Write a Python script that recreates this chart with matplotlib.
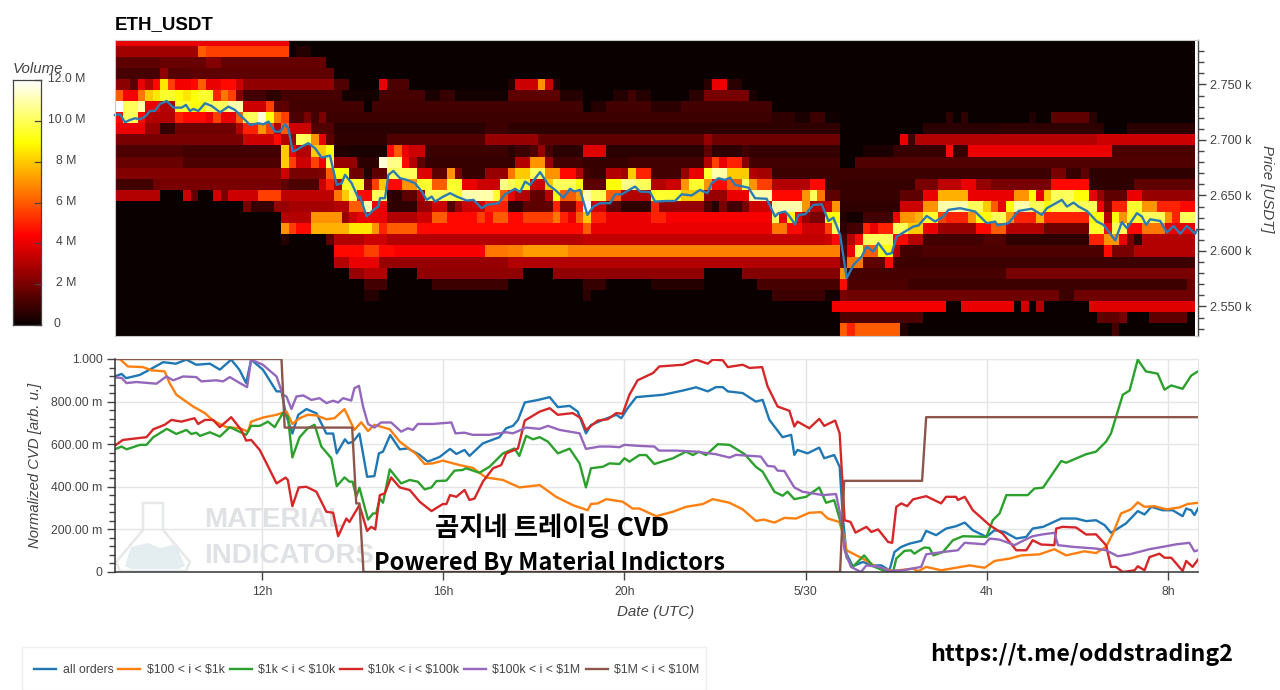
import numpy as np
import matplotlib
matplotlib.use("Agg")
import matplotlib.pyplot as plt
from matplotlib.transforms import Affine2D
from matplotlib.patches import Polygon, Rectangle
from matplotlib.ticker import FixedLocator

plt.rcParams['font.family'] = ['Liberation Sans', 'Noto Sans CJK KR', 'DejaVu Sans']
plt.rcParams['text.parse_math'] = False

TITLE = "ETH_USDT"
TIME_TICKS = [12, 16, 20, 24, 28, 32]
TIME_LABELS = ["12h", "16h", "20h", "5/30", "4h", "8h"]
PRICE_TICKS = [2550, 2600, 2650, 2700, 2750]
PRICE_LABELS = ["2.550 k", "2.600 k", "2.650 k", "2.700 k", "2.750 k"]
CVD_TICKS = [0, .2, .4, .6, .8, 1.0]
CVD_LABELS = ["0", "200.00 m", "400.00 m", "600.00 m", "800.00 m", "1.000"]

# Heatmap: one row per 10 USD price bin, (last 10-min column, volume in millions)
r2790 = [(23,4),(143,0)]
r2780 = [(11,2.7),(12,6),(23,5.5),(24,0),(26,.5),(143,0)]
r2770 = [(6,1.5),(12,1.7),(14,2.2),(28,1.6),(143,0)]
r2760 = [(6,1.1),(7,2.4),(10,1.4),(29,1.5),(143,0)]
r2750 = [(2,2.3),(3,1.4),(4,4),(5,3),(6,4.5),(7,8.5),(8,5.5),(10,4.2),(11,4.5),(12,6),(14,4),(16,4.5),(17,3.5),(29,2.4),(31,1.3),(35,0),(36,4),(39,1.2),(52,0),(53,.5),(56,3.5),(57,7),(58,3.5),(59,.5),(78,0),(79,.6),(81,4),(83,.6),(143,0)]
r2740 = [(1,6),(3,4.3),(4,6.5),(5,8),(6,8.5),(8,9.5),(9,9),(10,8.5),(11,9),(13,9.5),(14,5),(15,6.5),(16,5.5),(17,2.2),(20,1),(22,.7),(30,1.1),(35,.2),(41,1.1),(43,.3),(45,.8),(52,.2),(59,1.5),(62,.5),(66,0),(68,.5),(69,1),(71,.5),(76,0),(78,.6),(84,2),(85,.3),(143,0)]
r2730 = [(1,12),(3,10),(4,11),(6,4),(8,3),(10,9.5),(12,9),(15,10),(17,11),(20,3.5),(21,5.5),(23,1.5),(33,1),(34,0),(62,1),(63,0),(65,.5),(71,1),(75,.6),(87,1),(143,0)]
r2720 = [(1,4.5),(3,10),(4,4.5),(8,3),(9,5),(12,4.5),(13,4),(14,5.5),(16,4),(17,6),(19,10),(20,11.5),(21,9),(22,6.5),(23,5.5),(25,1.2),(26,2),(27,1),(28,2),(87,.9),(90,.7),(92,.3),(94,.9),(96,.1),(110,0),(111,.7),(112,0),(113,.7),(121,0),(122,.4),(124,0),(129,1.5),(130,.6),(143,0)]
r2710 = [(4,4),(6,2.5),(8,.8),(16,1.8),(17,3),(19,5),(20,7),(21,5.5),(22,3),(23,6),(26,3.5),(29,1.3),(49,.6),(52,.9),(96,.7),(107,0),(117,.6),(131,.7),(134,0),(143,.6)]
r2700 = [(17,2),(21,3.5),(22,4.5),(23,3),(24,2.5),(26,10),(27,7),(28,4),(29,1.5),(36,.7),(49,1.3),(56,2.5),(78,1.5),(79,2.5),(96,1.8),(104,0),(105,4),(106,1),(130,3),(143,3.5)]
r2690 = [(9,1.2),(22,1),(23,8),(24,4),(26,3),(28,8),(29,9),(31,.4),(36,.3),(37,4.5),(38,6),(39,4),(41,3.5),(52,.9),(53,.6),(55,.9),(56,1.3),(57,2.5),(58,1),(62,.6),(65,3.8),(78,.6),(79,1.5),(83,.7),(84,1),(96,.8),(99,0),(103,.3),(110,.8),(111,4.5),(113,.8),(132,4),(143,1.2)]
r2680 = [(9,1.7),(22,1.2),(23,8),(24,5.5),(26,3.5),(27,5.5),(28,4),(29,10),(32,2.5),(35,.6),(36,11.5),(38,10.5),(39,4.5),(40,3),(41,1.5),(53,.8),(55,3),(57,7),(58,2.5),(62,1),(68,.8),(78,1),(79,3),(80,5.5),(81,4),(83,5),(84,2.3),(96,1),(98,0),(143,1.3)]
r2670 = [(22,2.2),(23,3.5),(27,2),(28,2.2),(29,6),(31,9),(33,1.8),(34,.5),(36,1.5),(40,10),(42,3.8),(44,1.5),(45,7),(46,2),(49,.8),(52,2.5),(53,6.5),(55,8),(57,10),(59,7),(61,4.5),(62,3),(63,1),(65,.8),(67,3),(68,2.7),(69,8),(71,5),(75,1),(76,2.5),(78,4),(79,9.5),(81,11),(84,8),(85,3),(87,2.8),(124,.9),(126,2),(128,.8),(129,1.5),(143,.7)]
r2660 = [(5,1),(6,1.8),(22,2),(23,1.5),(27,1.2),(28,3.5),(29,5),(30,3),(33,9.5),(34,2),(35,5.5),(36,8),(38,4.5),(40,7),(42,9.5),(44,6),(46,9.5),(48,4),(51,3.5),(52,10.5),(53,10),(55,9.5),(57,3.5),(58,8),(61,10),(62,9),(65,1.5),(67,9),(69,10.5),(71,10),(73,3),(75,3.5),(76,7),(78,9.5),(79,7),(81,4.5),(83,6),(84,10),(85,7),(87,5.5),(92,3),(94,4.5),(96,.9),(106,.8),(109,2),(112,3.2),(114,4),(116,2.5),(124,2),(129,4.5),(135,.7),(143,1.5)]
r2650 = [(6,3),(9,0),(10,3.5),(11,1.5),(13,0),(14,3.5),(15,2),(19,3.5),(22,5.5),(29,3.2),(30,6.5),(31,8),(32,10),(34,4.5),(36,10),(38,.6),(40,1.5),(41,3),(45,10),(46,9.5),(50,11),(51,9.5),(52,6),(53,4),(55,3),(57,1.5),(58,3),(59,9),(61,6),(62,7),(63,11),(65,10),(67,6),(71,3),(75,9.5),(78,8),(81,2.5),(84,4),(87,11),(91,4.5),(92,7),(93,10),(94,6.5),(96,1.5),(104,.8),(107,1.5),(109,4),(113,7.5),(119,4),(121,7),(122,9),(123,4),(124,8),(127,10),(129,9),(130,4),(131,2.5),(134,1.5),(136,4),(143,2.5)]
r2640 = [(17,0),(18,2),(21,.8),(23,2.5),(29,2.8),(31,3),(33,6),(34,11),(36,4),(40,.7),(42,2.5),(44,3.5),(45,1.3),(46,2.5),(49,3.5),(52,5),(54,.6),(58,1.5),(59,5),(61,2),(62,5),(63,12),(65,3.5),(67,1.5),(71,.7),(72,5),(78,2.5),(79,1.2),(80,.5),(81,2),(83,1),(84,2),(87,3.5),(91,11),(92,7),(94,3),(95,3.5),(96,7),(104,.7),(107,3.5),(109,7),(113,11),(115,10),(116,8),(117,6),(118,4),(119,9),(121,11),(123,10),(124,9),(130,10),(131,4),(132,2),(134,5),(136,9.5),(138,7),(141,5),(143,4.5)]
r2630 = [(22,0),(26,3),(30,7),(31,2.5),(32,3.5),(36,4),(40,3),(42,3.5),(44,6),(48,4.5),(49,5.5),(50,4.5),(52,6),(54,4.5),(58,5.5),(59,6.5),(60,5),(61,4),(62,6),(63,8),(65,5),(71,4),(73,5),(87,4.3),(88,10),(89,4),(90,9),(91,4),(92,2.5),(94,2),(96,9),(97,.5),(99,.2),(103,1),(104,4),(106,7),(107,7.5),(109,9.5),(110,5.5),(113,5),(114,7),(116,9),(118,10),(119,7),(122,5),(123,7.5),(129,5),(131,9),(132,3),(133,9),(134,7),(136,9.5),(139,10),(140,7),(141,5),(143,10)]
r2620 = [(22,0),(23,7),(24,5.5),(26,4.5),(31,7.5),(34,8.5),(35,7),(36,5),(40,6),(62,4.5),(63,6),(87,4),(89,6.5),(91,4.5),(94,3.5),(95,5.5),(96,10),(97,.7),(99,1),(100,5),(101,4),(103,5),(105,10),(107,8),(109,4),(114,2.5),(116,4.5),(118,6),(123,3),(129,1.8),(131,9.5),(132,4.5),(134,10),(136,4.5),(139,6.5),(143,4)]
r2610 = [(22,0),(23,.5),(28,0),(29,1.5),(33,3),(36,3.5),(62,3),(94,3.3),(95,3.5),(96,4.5),(97,1),(98,3),(99,4.5),(103,10),(105,4.5),(107,3),(115,1),(118,1.3),(129,.7),(131,5),(133,7),(134,4),(135,2),(136,.7),(143,3)]
r2600 = [(29,0),(33,4.5),(35,5.5),(37,4.5),(49,4.3),(52,6.5),(54,6.7),(60,7.2),(96,6.7),(97,1.3),(98,4),(99,10),(101,6),(103,9),(104,3),(107,1),(131,1.2),(132,4.5),(135,2),(143,3)]
r2590 = [(29,0),(31,3),(35,4),(52,2.5),(96,3),(97,1.5),(99,6.5),(102,1.5),(103,4.5),(143,.9)]
r2580 = [(31,0),(33,2.5),(36,3),(40,0),(54,2.4),(58,0),(78,2.4),(83,0),(96,2.2),(97,7),(118,1.1),(143,2)]
r2570 = [(33,0),(36,1),(42,0),(52,.9),(62,0),(65,.8),(71,0),(78,.5),(85,0),(96,1.1),(97,4.5),(105,1.2),(142,.9),(143,1.7)]
r2560 = [(33,0),(35,.5),(62,0),(63,.6),(87,0),(94,.9),(96,.2),(97,2),(125,1.8),(127,.9),(143,1.8)]
r2550 = [(95,0),(110,4.2),(112,0),(119,4),(120,0),(121,3.5),(122,0),(123,3),(129,0),(143,3.8)]
r2540 = [(96,0),(107,1.2),(130,0),(133,1.5),(134,2),(137,0),(142,1.5),(143,0)]
r2530 = [(96,0),(97,6),(98,5),(104,6),(105,.5),(132,0),(133,1),(143,0)]
heat_rows = [r2790,r2780,r2770,r2760,r2750,r2740,r2730,r2720,r2710,r2700,r2690,r2680,r2670,r2660,
             r2650,r2640,r2630,r2620,r2610,r2600,r2590,r2580,r2570,r2560,r2550,r2540,r2530]
heat_prices_top = 2795
heat_prices_bottom = 2525
heat_start_hour = 8.755
heat_bin_hours = 1/6

# Price line: (hour from 5/29 00:00, price)
price_line = [(8.755,2722.5),(8.865,2723.1),(8.976,2715.9),(9.086,2718),(9.197,2719.5),(9.307,2718.6),(9.417,2721),(9.528,2726.1),(9.638,2726.1),(9.748,2732.4),(9.895,2735.1),(10.043,2729.1),(10.227,2729.1),(10.322,2731.5),(10.411,2726.1),(10.484,2727.9),(10.595,2726.1),(10.742,2733),(10.889,2730.6),(11.073,2724.9),(11.257,2730),(11.404,2727),(11.551,2721),(11.735,2713.5),(11.919,2715),(12.03,2714.1),(12.14,2716.5),(12.287,2707.5),(12.397,2707.5),(12.508,2714.1),(12.581,2710.5),(12.677,2689.5),(12.765,2691),(12.876,2694),(13.023,2697),(13.17,2692.5),(13.317,2684.1),(13.501,2685.9),(13.648,2659.5),(13.759,2661),(13.832,2668.5),(13.979,2661),(14.127,2647.5),(14.163,2649),(14.311,2631),(14.458,2637),(14.568,2640),(14.605,2647.5),(14.715,2647.5),(14.789,2668.5),(14.899,2672.1),(15.046,2665.5),(15.194,2664),(15.377,2661),(15.525,2653.5),(15.635,2646),(15.745,2649),(15.819,2644.5),(16.003,2649),(16.15,2652),(16.297,2649),(16.518,2645.4),(16.665,2646),(16.849,2638.5),(16.96,2641.5),(17.217,2643),
(17.365,2651),(17.586,2656),(17.696,2653),(17.807,2662.5),(17.917,2659.5),(18.137,2671),(18.321,2659.5),(18.469,2655),(18.652,2648),(18.8,2656),(18.888,2653.5),(19.02,2655),(19.182,2632.5),(19.314,2640),(19.461,2643),(19.682,2643),(19.793,2651),(19.94,2651),(20.234,2658),(20.344,2653.5),(20.565,2653),(20.675,2644.5),(20.933,2645),(21.117,2645),(21.264,2651),(21.484,2650),(21.668,2655),(21.83,2652),(21.926,2661),(22.073,2665.5),(22.22,2664),(22.331,2666),(22.441,2659.5),(22.735,2657),(22.883,2647.5),(23.14,2647),(23.324,2631),(23.398,2634),(23.545,2635.5),(23.619,2632.5),(23.766,2624),(23.84,2632.5),(23.987,2633),(24.171,2641.5),(24.355,2642),(24.502,2627),(24.612,2630),(24.76,2614.5),(24.907,2575.5),(25.054,2587.5),(25.238,2595),(25.348,2604),(25.495,2599.5),(25.605,2607),
(25.789,2597),(25.9,2598),(26.01,2613),(26.194,2617.5),(26.378,2622),(26.49,2623),(26.672,2631.5),(26.856,2626.5),(27.04,2631),(27.151,2637),(27.409,2638.5),(27.74,2635.5),(27.998,2625),(28.182,2626.5),(28.234,2623),(28.477,2625),(28.698,2636),(28.993,2638),(29.213,2632.5),(29.324,2638.5),(29.655,2646),(29.766,2640),(29.913,2643.5),(30.023,2640),(30.207,2636),(30.428,2626.5),(30.575,2623.5),(30.833,2609.5),(30.98,2626),(31.09,2620.5),(31.311,2634),(31.421,2631),(31.516,2623.5),(31.605,2628.5),(31.826,2627),(31.973,2616.5),(32.12,2622.5),(32.267,2615.5),(32.414,2622.5),(32.598,2615.5),(32.635,2619)]

# Normalized CVD: (hour, value)
cvd_all = [(8.75,.918),(8.9,.93),(9.0,.91),(9.3,.925),(9.52,.95),(9.82,.985),(10.1,.978),(10.33,.997),(10.55,.973),(10.85,.978),(11.07,.95),(11.32,.997),(11.5,.95),(11.65,.887),(11.76,.997),(12.02,.95),(12.32,.848),(12.43,.848),(12.52,.745),(12.67,.65),(12.8,.738),(12.98,.765),(13.2,.745),(13.42,.65),(13.57,.65),(13.65,.557),(13.83,.623),(13.9,.605),(14.0,.61),(14.15,.65),(14.32,.447),(14.48,.45),(14.58,.557),(14.67,.565),(14.83,.643),(15.04,.576),(15.22,.58),(15.48,.55),(15.66,.518),(15.92,.54),(16.15,.578),(16.29,.554),(16.47,.573),(16.58,.545),(16.875,.604),(17.24,.633),(17.39,.675),(17.54,.686),(17.65,.714),(17.8,.796),(18.1,.808),(18.35,.821),(18.53,.774),(18.79,.78),(18.97,.753),(19.15,.651),(19.26,.69),(19.52,.714),(19.82,.738),(19.93,.722),(20.07,.769),(20.26,.821),(20.85,.832),(21.29,.852),(21.58,.867),(21.84,.848),(22.02,.868),(22.17,.868),(22.28,.848),(22.61,.84),(22.9,.80),(23.05,.808),(23.2,.714),(23.49,.633),(23.68,.644),(23.75,.55),(23.82,.573),(24.04,.557),(24.3,.584),(24.41,.534),(24.63,.549),(24.75,.494),(24.82,.259),(24.9,.086),(25.04,.027),(25.26,.047),(25.49,.031),(25.67,.031),(25.85,.008),(25.96,.094),(26.11,.118),(26.29,.133),(26.55,.146),(26.66,.193),(26.88,.173),(27.1,.204),(27.32,.215),(27.51,.232),(27.69,.196),(27.99,.165),(28.17,.196),(28.39,.188),(28.65,.157),(28.87,.165),(29.01,.204),(29.24,.212),(29.64,.251),(29.97,.251),(30.19,.239),(30.41,.243),(30.6,.22),(30.74,.184),(31.07,.228),(31.33,.286),(31.48,.27),(31.63,.306),(31.88,.29),(32.1,.29),(32.32,.262),(32.4,.298),(32.51,.29),(32.58,.267),(32.66,.298)]
cvd_100_1k = [(8.75,1.0),(8.86,1.0),(9.04,.965),(9.37,.962),(9.56,.947),(9.85,.942),(9.96,.887),(10.11,.832),(10.48,.777),(10.74,.746),(10.92,.711),(11.21,.68),(11.51,.675),(11.69,.659),(11.76,.706),(12.02,.725),(12.32,.738),(12.54,.754),(12.67,.695),(12.83,.722),(13.01,.738),(13.2,.735),(13.42,.717),(13.6,.722),(13.82,.765),(14.04,.667),(14.19,.703),(14.34,.662),(14.48,.691),(14.82,.67),(15.04,.612),(15.4,.554),(15.59,.507),(15.77,.51),(15.99,.523),(16.36,.502),(16.65,.489),(16.94,.444),(17.32,.432),(17.68,.397),(18.13,.408),(18.49,.353),(18.86,.314),(19.19,.29),(19.26,.319),(19.41,.322),(19.6,.342),(19.96,.33),(20.18,.298),(20.33,.298),(20.7,.262),(21.07,.283),(21.36,.306),(21.73,.319),(21.95,.342),(22.32,.325),(22.61,.294),(22.9,.24),(23.08,.246),(23.31,.232),(23.53,.254),(23.79,.251),(24.08,.278),(24.34,.281),(24.49,.251),(24.74,.235),(24.85,.165),(24.9,.102),(25.26,.063),(25.56,.024),(25.93,.005),(26.37,.016),(26.48,.003),(26.66,.024),(26.99,.008),(27.32,.02),(27.62,.031),(27.95,.02),(28.17,.052),(28.5,.063),(28.76,.078),(29.16,.083),(29.49,.107),(29.75,.078),(30.15,.097),(30.41,.089),(30.63,.118),(30.78,.18),(30.96,.275),(31.18,.294),(31.33,.327),(31.48,.306),(31.7,.309),(31.96,.294),(32.25,.303),(32.43,.319),(32.66,.325)]
cvd_1k_10k = [(8.75,.576),(8.9,.589),(9.01,.576),(9.31,.597),(9.45,.597),(9.6,.633),(9.9,.672),(10.11,.648),(10.33,.667),(10.44,.648),(10.55,.654),(10.63,.639),(10.85,.656),(11.07,.636),(11.29,.68),(11.65,.644),(11.76,.686),(11.95,.686),(12.13,.706),(12.28,.68),(12.46,.746),(12.57,.73),(12.67,.538),(12.83,.633),(13.01,.675),(13.16,.691),(13.31,.589),(13.53,.534),(13.65,.403),(13.82,.444),(13.93,.424),(14.0,.424),(14.08,.353),(14.15,.396),(14.34,.246),(14.45,.275),(14.52,.275),(14.6,.345),(14.67,.325),(14.82,.482),(15.07,.416),(15.26,.432),(15.44,.424),(15.59,.388),(15.74,.397),(15.85,.427),(16.07,.429),(16.25,.476),(16.43,.479),(16.5,.487),(16.8,.466),(17.02,.494),(17.32,.557),(17.57,.58),(17.68,.545),(17.83,.639),(17.98,.623),(18.13,.633),(18.31,.612),(18.53,.557),(18.79,.579),(19.01,.51),(19.15,.397),(19.26,.487),(19.52,.494),(19.67,.51),(19.89,.507),(20,.534),(20.11,.518),(20.33,.549),(20.48,.549),(20.66,.507),(21.07,.534),(21.36,.565),(21.51,.549),(21.65,.565),(21.8,.549),(22.06,.6),(22.32,.597),(22.65,.554),(22.9,.494),(23.05,.471),(23.31,.377),(23.49,.358),(23.6,.377),(23.75,.342),(24.01,.353),(24.3,.397),(24.45,.325),(24.63,.337),(24.78,.228),(24.9,.07),(25.04,.024),(25.29,.078),(25.49,.027),(25.71,.008),(25.93,0),(26,.063),(26.18,.099),(26.32,.102),(26.4,.086),(26.51,.102),(26.62,.115),(26.73,.113),(26.82,.078),(27.03,.094),(27.25,.149),(27.47,.168),(27.99,.165),(28.13,.243),(28.28,.275),(28.43,.361),(28.9,.361),(29.05,.392),(29.24,.396),(29.64,.521),(29.75,.513),(30.19,.553),(30.41,.565),(30.63,.612),(30.74,.651),(31,.832),(31.15,.852),(31.33,.997),(31.51,.942),(31.77,.931),(31.92,.856),(32.07,.876),(32.32,.86),(32.51,.922),(32.66,.942)]
cvd_10k_100k = [(8.75,.593),(8.93,.62),(9.45,.633),(9.6,.67),(9.85,.691),(10,.714),(10.22,.706),(10.51,.722),(10.59,.695),(10.74,.714),(10.92,.714),(11.07,.68),(11.32,.727),(11.54,.667),(11.65,.617),(11.76,.62),(11.95,.573),(12.1,.51),(12.32,.416),(12.52,.443),(12.57,.432),(12.67,.309),(12.81,.397),(12.98,.4),(13.2,.377),(13.42,.283),(13.57,.278),(13.68,.168),(13.86,.251),(13.93,.235),(14.15,.314),(14.32,.193),(14.41,.212),(14.5,.2),(14.6,.361),(14.71,.369),(14.85,.444),(15.04,.397),(15.26,.385),(15.48,.33),(15.74,.286),(15.99,.319),(16.07,.319),(16.15,.361),(16.29,.353),(16.47,.385),(16.58,.338),(16.69,.345),(16.875,.424),(17.1,.487),(17.28,.502),(17.39,.557),(17.65,.58),(17.8,.711),(18.13,.753),(18.35,.769),(18.53,.738),(18.86,.746),(19.04,.722),(19.15,.667),(19.41,.711),(19.63,.717),(19.82,.746),(19.96,.743),(20.11,.832),(20.29,.9),(20.63,.934),(20.77,.965),(21.29,.973),(21.58,.997),(21.84,.978),(21.95,.997),(22.17,.994),(22.28,.962),(22.61,.973),(22.76,.958),(23.04,.962),(23.16,.871),(23.38,.777),(23.64,.757),(23.75,.683),(23.82,.706),(24.08,.675),(24.3,.719),(24.41,.686),(24.65,.711),(24.75,.651),(24.86,.243),(24.99,.235),(25.1,.185),(25.34,.212),(25.45,.188),(25.6,.2),(25.82,.141),(25.91,.137),(26,.306),(26.11,.322),(26.24,.309),(26.37,.341),(26.66,.356),(26.99,.322),(27.1,.353),(27.32,.353),(27.36,.338),(27.51,.353),(27.69,.29),(28.06,.22),(28.35,.18),(28.65,.102),(28.87,.102),(29.01,.149),(29.2,.129),(29.49,.126),(29.53,.204),(29.67,.212),(29.97,.209),(30.19,.176),(30.41,.177),(30.63,.126),(30.74,.024),(30.85,.024),(31,0),(31.26,.008),(31.33,.027),(31.48,.008),(31.59,.07),(31.81,.086),(31.92,.067),(32.07,.067),(32.32,.005),(32.4,.052),(32.54,.024),(32.66,.058)]
cvd_100k_1m = [(8.75,.914),(8.9,.911),(9.01,.887),(9.23,.892),(9.67,.884),(9.89,.918),(10.04,.9),(10.26,.918),(10.55,.915),(10.66,.895),(10.99,.9),(11.14,.895),(11.29,.915),(11.51,.887),(11.67,.868),(11.76,.997),(12.02,.973),(12.32,.918),(12.46,.832),(12.54,.824),(12.65,.765),(12.76,.824),(12.91,.829),(13.09,.808),(13.27,.816),(13.42,.793),(13.57,.804),(13.68,.796),(13.79,.816),(13.97,.805),(14.04,.863),(14.14,.874),(14.23,.777),(14.34,.695),(14.48,.678),(14.63,.702),(14.85,.702),(15.07,.659),(15.22,.675),(15.33,.667),(15.44,.695),(15.77,.695),(16.18,.702),(16.27,.651),(16.47,.654),(16.65,.644),(17.02,.644),(17.39,.656),(17.54,.651),(17.83,.678),(18.13,.672),(18.31,.686),(18.57,.667),(19.01,.651),(19.15,.578),(19.45,.589),(19.67,.589),(19.89,.586),(20,.597),(20.33,.592),(20.66,.589),(20.76,.57),(21.14,.57),(21.58,.565),(22.02,.553),(22.32,.537),(22.46,.55),(23.01,.542),(23.16,.498),(23.31,.495),(23.38,.476),(23.53,.474),(23.75,.397),(23.93,.377),(24.38,.361),(24.67,.366),(24.79,.243),(24.86,.102),(25,.024),(25.22,0),(25.34,.031),(25.63,.024),(25.85,.005),(26.15,.008),(26.55,.024),(26.66,.083),(27.03,.094),(27.36,.102),(27.51,.137),(27.95,.13),(28.06,.157),(28.28,.152),(28.61,.126),(28.79,.146),(29.01,.168),(29.24,.177),(29.49,.184),(29.57,.126),(29.9,.118),(30.41,.11),(30.63,.102),(30.89,.074),(31.15,.083),(31.59,.107),(31.88,.118),(32.18,.13),(32.47,.137),(32.58,.097),(32.66,.102)]
cvd_1m_10m = [(8.75,1.0),(12.43,1.0),(12.5,.678),(13.99,.678),(14.08,.322),(14.15,.322),(14.24,0),(24.76,0),(24.85,.428),(26.57,.428),(26.66,.727),(32.66,.727)]

series_labels = ["all orders", "$100 < i < $1k", "$1k < i < $10k", "$10k < i < $100k", "$100k < i < $1M", "$1M < i < $10M"]
series_data = [cvd_all, cvd_100_1k, cvd_1k_10k, cvd_10k_100k, cvd_100k_1m, cvd_1m_10m]
series_colors = ["#1f77b4", "#ff7f0e", "#2ca02c", "#d62728", "#9467bd", "#8c564b"]

W, H = 1280, 690
GRAY = "#444444"


def ax_px(left, top, right, bottom):
    return fig.add_axes([left / W, 1 - bottom / H, (right - left) / W, (bottom - top) / H])


def txt(x, y, s, **kw):
    return fig.text(x / W, 1 - y / H, s, **kw)


def expand(row):
    out, start = [], 0
    for end, val in row:
        out += [val] * (end - start)
        start = end
    return out


fig = plt.figure(figsize=(W / 100, H / 100), dpi=100, facecolor="white")
px = Affine2D().scale(1, -1).translate(0, H)
XLIM = (8.755, 32.66)
PRICE_YLIM = (2523.4, 2790)

# ---- heatmap panel
ax1 = ax_px(115, 40, 1198, 336)
heat = np.array([expand(r) for r in heat_rows], dtype=float)
t_edges = heat_start_hour + np.arange(heat.shape[1] + 1) * heat_bin_hours
p_edges = np.linspace(heat_prices_top, heat_prices_bottom, heat.shape[0] + 1)
p_edges[-1] = PRICE_YLIM[0]  # last bin runs down to the panel's floor
ax1.pcolormesh(t_edges, p_edges, heat, cmap="hot", vmin=0, vmax=12, rasterized=True)
ax1.plot(*zip(*price_line), color="#2b7bb5", lw=1.7, clip_on=False, solid_joinstyle="round")
ax1.set_xlim(*XLIM)
ax1.set_ylim(*PRICE_YLIM)
ax1.set_xticks([])
ax1.yaxis.tick_right()
ax1.set_yticks(PRICE_TICKS, PRICE_LABELS)
ax1.yaxis.set_minor_locator(FixedLocator(np.arange(2530, 2790, 10)))
ax1.tick_params(axis="y", which="major", length=6, width=1, color=GRAY, labelcolor=GRAY, labelsize=9.1, pad=3)
ax1.tick_params(axis="y", which="minor", length=4, width=1, color=GRAY)
for s in ("top", "left", "bottom"):
    ax1.spines[s].set_color("#c8c8c8")
    ax1.spines[s].set_linewidth(.8)
ax1.spines["right"].set_color(GRAY)
ax1.spines["right"].set_linewidth(1)
txt(115, 25, TITLE, fontsize=13.5, fontweight="bold", color="black", ha="left", va="center")
txt(1267, 189, "Price [USDT]", rotation=-90, style="italic", color=GRAY, fontsize=10.8, ha="center", va="center")

# ---- colorbar
cax = ax_px(12.5, 80, 41, 325)
cax.imshow(np.linspace(12, 0, 256)[:, None], cmap="hot", aspect="auto", vmin=0, vmax=12, extent=(0, 1, 0, 12))
cax.set_xticks([])
cax.set_yticks([])
for s in cax.spines.values():
    s.set_color(GRAY)
    s.set_linewidth(.9)
for v, lab, x in [(12, "12.0 M", 48), (10, "10.0 M", 48), (8, "8 M", 56), (6, "6 M", 56),
                  (4, "4 M", 56), (2, "2 M", 56), (0, "0", 54)]:
    cax.plot([.8, 1], [v, v], color=GRAY, lw=.9, clip_on=False)
    y = 325 - v / 12 * 245
    txt(x, y - 1, lab, fontsize=8.8, color=GRAY, ha="left", va="center")
cax.set_xlim(0, 1)
cax.set_ylim(0, 12)
txt(13, 69, "Volume", style="italic", color=GRAY, fontsize=10.8, ha="left", va="center")

# ---- CVD panel
ax2 = ax_px(115, 359, 1198, 572)
ax2.set_axisbelow(True)
ax2.grid(True, color="#e5e5e5", lw=1)
# watermark (flask + wordmark) sits underneath the curves
ax2.add_patch(Polygon([(125, 566), (131, 547), (148, 543), (160, 548), (176, 544), (185, 566), (178, 569), (131, 569)],
                      closed=True, transform=px, facecolor="#e4eef1", edgecolor="none", zorder=1))
ax2.add_patch(Polygon([(143, 503), (163, 503), (163, 530), (190, 562), (186, 571), (120, 571), (116, 562), (143, 530)],
                      closed=True, transform=px, facecolor="none", edgecolor="#e6e8ea", lw=1.8, zorder=1))
ax2.text(204, 520, "MATERIAL", transform=px, fontweight="bold", fontsize=20, color="#dfe1e4",
         va="center", ha="left", zorder=1)
ax2.text(204, 556, "INDICATORS", transform=px, fontweight="bold", fontsize=20, color="#dfe1e4",
         va="center", ha="left", zorder=1)
handles = []
for data, lab, col in zip(series_data, series_labels, series_colors):
    h, = ax2.plot(*zip(*data), color=col, lw=1.7, label=lab, zorder=3, solid_joinstyle="round")
    handles.append(h)
ax2.set_xlim(*XLIM)
ax2.set_ylim(0, 1)
ax2.set_xticks(TIME_TICKS, TIME_LABELS)
ax2.set_yticks(CVD_TICKS, CVD_LABELS)
ax2.yaxis.set_minor_locator(FixedLocator(np.arange(0, 1.001, .04)))
ax2.tick_params(axis="x", which="major", length=6, width=1, color=GRAY, labelcolor=GRAY, labelsize=8.8, pad=4)
ax2.tick_params(axis="y", which="major", length=6, width=1, color=GRAY, labelcolor=GRAY, labelsize=8.8, pad=3)
ax2.tick_params(axis="y", which="minor", length=4, width=1, color=GRAY)
for s in ("top", "right"):
    ax2.spines[s].set_color("#e5e5e5")
for s in ("left", "bottom"):
    ax2.spines[s].set_color("#333333")
    ax2.spines[s].set_linewidth(1.1)
    ax2.spines[s].set_zorder(4)
txt(35, 465, "Normalized CVD [arb. u.]", rotation=90, style="italic", color=GRAY, fontsize=10.7, ha="center", va="center")
txt(656, 612, "Date (UTC)", style="italic", color=GRAY, fontsize=10.9, ha="center", va="center")

# ---- legend
fig.add_artist(Rectangle((22 / W, 1 - 689.5 / H), 684 / W, 42.5 / H, transform=fig.transFigure,
                         facecolor="white", edgecolor="#efefef", lw=1))
leg = fig.legend(handles=handles, labels=series_labels, ncol=6, loc="center left",
                 bbox_to_anchor=(21 / W, 1 - 670 / H), bbox_transform=fig.transFigure,
                 fontsize=8.8, labelcolor=GRAY, frameon=False,
                 handlelength=1.8, handletextpad=.5, columnspacing=.42, borderpad=1.1, borderaxespad=0)
for lh in leg.get_lines():
    lh.set_linewidth(1.7)

# ---- overlaid captions
KR = ["Noto Sans CJK KR", "DejaVu Sans"]
txt(552, 529, "곰지네 트레이딩 CVD", family=KR, fontweight="bold", fontsize=19, color="black", ha="center", va="center", zorder=10)
txt(549, 563, "Powered By Material Indictors", family=KR, fontweight="bold", fontsize=17, color="black", ha="center", va="center", zorder=10)
txt(1082, 655, "https://t.me/oddstrading2", family=KR, fontweight="bold", fontsize=16.7, color="black", ha="center", va="center", zorder=10)

fig.savefig("out.png", dpi=100)
